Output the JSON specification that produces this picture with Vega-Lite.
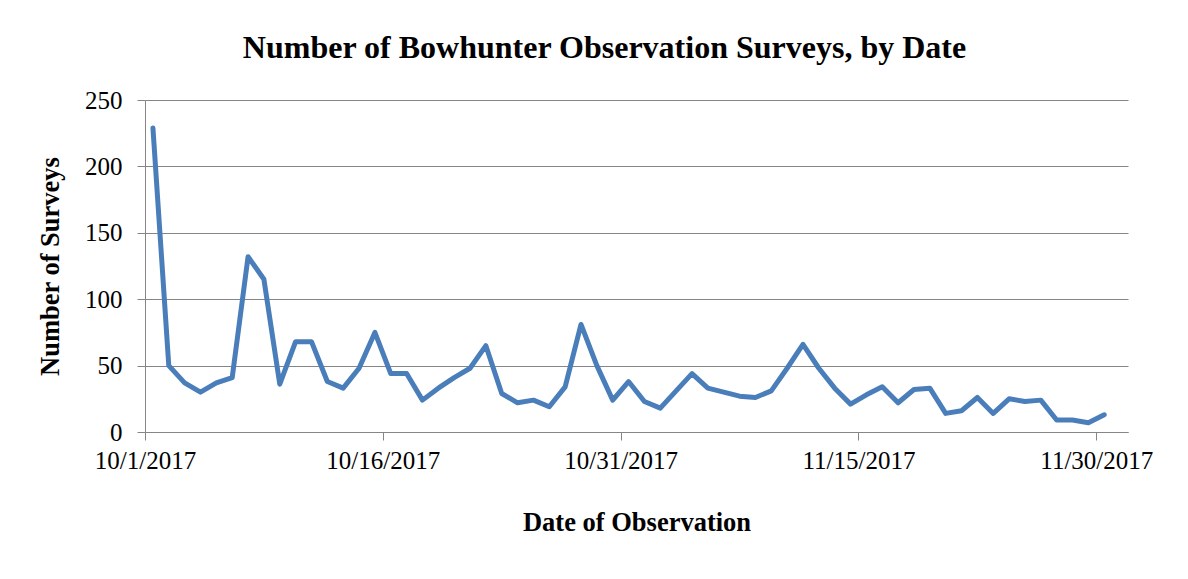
{
  "$schema": "https://vega.github.io/schema/vega-lite/v6.json",
  "width": 983,
  "height": 332,
  "autosize": {"type": "none"},
  "padding": {"left": 145, "top": 100, "right": 60, "bottom": 147},
  "background": "white",
  "title": {
    "text": "Number of Bowhunter Observation Surveys, by Date",
    "font": "Liberation Serif",
    "fontSize": 32,
    "fontWeight": "bold",
    "color": "black",
    "anchor": "middle",
    "frame": "group",
    "baseline": "alphabetic",
    "offset": -2,
    "dx": -32
  },
  "config": {
    "view": {"stroke": null},
    "axis": {
      "labelFont": "Liberation Serif",
      "titleFont": "Liberation Serif",
      "labelColor": "black",
      "titleColor": "black",
      "domainColor": "#868686",
      "tickColor": "#868686",
      "gridColor": "#868686",
      "domainWidth": 1,
      "tickWidth": 1,
      "gridWidth": 1
    }
  },
  "data": {
    "values": [
      {"date": "2017-10-01", "surveys": 229},
      {"date": "2017-10-02", "surveys": 50},
      {"date": "2017-10-03", "surveys": 37},
      {"date": "2017-10-04", "surveys": 30},
      {"date": "2017-10-05", "surveys": 37},
      {"date": "2017-10-06", "surveys": 41},
      {"date": "2017-10-07", "surveys": 132},
      {"date": "2017-10-08", "surveys": 115},
      {"date": "2017-10-09", "surveys": 36},
      {"date": "2017-10-10", "surveys": 68},
      {"date": "2017-10-11", "surveys": 68},
      {"date": "2017-10-12", "surveys": 38},
      {"date": "2017-10-13", "surveys": 33},
      {"date": "2017-10-14", "surveys": 48},
      {"date": "2017-10-15", "surveys": 75},
      {"date": "2017-10-16", "surveys": 44},
      {"date": "2017-10-17", "surveys": 44},
      {"date": "2017-10-18", "surveys": 24},
      {"date": "2017-10-19", "surveys": 33},
      {"date": "2017-10-20", "surveys": 41},
      {"date": "2017-10-21", "surveys": 48},
      {"date": "2017-10-22", "surveys": 65},
      {"date": "2017-10-23", "surveys": 29},
      {"date": "2017-10-24", "surveys": 22},
      {"date": "2017-10-25", "surveys": 24},
      {"date": "2017-10-26", "surveys": 19},
      {"date": "2017-10-27", "surveys": 34},
      {"date": "2017-10-28", "surveys": 81},
      {"date": "2017-10-29", "surveys": 50},
      {"date": "2017-10-30", "surveys": 24},
      {"date": "2017-10-31", "surveys": 38},
      {"date": "2017-11-01", "surveys": 23},
      {"date": "2017-11-02", "surveys": 18},
      {"date": "2017-11-03", "surveys": 31},
      {"date": "2017-11-04", "surveys": 44},
      {"date": "2017-11-05", "surveys": 33},
      {"date": "2017-11-06", "surveys": 30},
      {"date": "2017-11-07", "surveys": 27},
      {"date": "2017-11-08", "surveys": 26},
      {"date": "2017-11-09", "surveys": 31},
      {"date": "2017-11-10", "surveys": 48},
      {"date": "2017-11-11", "surveys": 66},
      {"date": "2017-11-12", "surveys": 48},
      {"date": "2017-11-13", "surveys": 33},
      {"date": "2017-11-14", "surveys": 21},
      {"date": "2017-11-15", "surveys": 28},
      {"date": "2017-11-16", "surveys": 34},
      {"date": "2017-11-17", "surveys": 22},
      {"date": "2017-11-18", "surveys": 32},
      {"date": "2017-11-19", "surveys": 33},
      {"date": "2017-11-20", "surveys": 14},
      {"date": "2017-11-21", "surveys": 16},
      {"date": "2017-11-22", "surveys": 26},
      {"date": "2017-11-23", "surveys": 14},
      {"date": "2017-11-24", "surveys": 25},
      {"date": "2017-11-25", "surveys": 23},
      {"date": "2017-11-26", "surveys": 24},
      {"date": "2017-11-27", "surveys": 9},
      {"date": "2017-11-28", "surveys": 9},
      {"date": "2017-11-29", "surveys": 7},
      {"date": "2017-11-30", "surveys": 13}
    ]
  },
  "mark": {
    "type": "line",
    "color": "#4A7EBB",
    "strokeWidth": 5,
    "strokeJoin": "round",
    "strokeCap": "round"
  },
  "encoding": {
    "x": {
      "field": "date",
      "type": "temporal",
      "timeUnit": "utcyearmonthdate",
      "bandPosition": 0.5,
      "title": "Date of Observation",
      "scale": {
        "type": "utc",
        "nice": false,
        "domain": [
          {"year": 2017, "month": 10, "date": 1, "utc": true},
          {"year": 2017, "month": 12, "date": 2, "utc": true}
        ]
      },
      "axis": {
        "values": [
          {"year": 2017, "month": 10, "date": 1, "utc": true},
          {"year": 2017, "month": 10, "date": 16, "utc": true},
          {"year": 2017, "month": 10, "date": 31, "utc": true},
          {"year": 2017, "month": 11, "date": 15, "utc": true},
          {"year": 2017, "month": 11, "date": 30, "utc": true}
        ],
        "labelExpr": "utcFormat(datum.value, '%-m/%-d/%Y')",
        "grid": false,
        "tickSize": 8,
        "labelFontSize": 25,
        "labelPadding": 8,
        "labelFlush": false,
        "labelOverlap": false,
        "titleFontSize": 26.5,
        "titleFontWeight": "bold",
        "titlePadding": 36
      }
    },
    "y": {
      "field": "surveys",
      "type": "quantitative",
      "title": "Number of Surveys",
      "scale": {"domain": [0, 250], "nice": false},
      "axis": {
        "values": [0, 50, 100, 150, 200, 250],
        "grid": true,
        "tickSize": 8,
        "labelFontSize": 25,
        "labelPadding": 15,
        "titleFontSize": 26.5,
        "titleFontWeight": "bold",
        "titlePadding": 20
      }
    }
  }
}
